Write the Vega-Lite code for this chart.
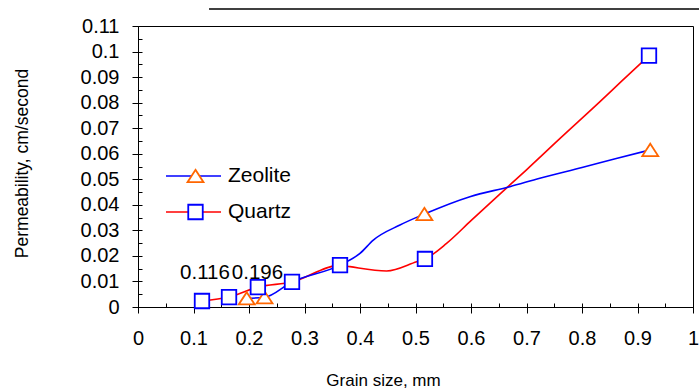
{
  "$schema": "https://vega.github.io/schema/vega-lite/v6.json",
  "width": 555,
  "height": 281,
  "autosize": {"type": "none"},
  "padding": {"left": 138, "top": 26, "right": 6, "bottom": 81},
  "background": "white",
  "config": {
    "font": "Liberation Sans",
    "view": {"stroke": "black", "strokeWidth": 1},
    "axis": {"grid": false, "domainColor": "black", "tickColor": "black", "labelColor": "black", "titleColor": "black", "labelFont": "Liberation Sans", "titleFont": "Liberation Sans", "titleFontWeight": "normal", "labelFlush": false, "labelOverlap": false}
  },
  "datasets": {
    "lines": [
      {"series": "Quartz", "grain": 0.1153, "perm": 0.00235},
      {"series": "Quartz", "grain": 0.164, "perm": 0.0039},
      {"series": "Quartz", "grain": 0.216, "perm": 0.0078},
      {"series": "Quartz", "grain": 0.2775, "perm": 0.0098},
      {"series": "Quartz", "grain": 0.364, "perm": 0.0164},
      {"series": "Quartz", "grain": 0.382, "perm": 0.0158},
      {"series": "Quartz", "grain": 0.448, "perm": 0.0141},
      {"series": "Quartz", "grain": 0.502, "perm": 0.0177},
      {"series": "Quartz", "grain": 0.517, "perm": 0.0188},
      {"series": "Quartz", "grain": 0.556, "perm": 0.0249},
      {"series": "Quartz", "grain": 0.6, "perm": 0.0338},
      {"series": "Quartz", "grain": 0.65, "perm": 0.0438},
      {"series": "Quartz", "grain": 0.70, "perm": 0.0537},
      {"series": "Quartz", "grain": 0.76, "perm": 0.0659},
      {"series": "Quartz", "grain": 0.8324, "perm": 0.0804},
      {"series": "Quartz", "grain": 0.87, "perm": 0.0881},
      {"series": "Quartz", "grain": 0.9207, "perm": 0.0984},
      {"series": "Zeolite", "grain": 0.1959, "perm": 0.0034},
      {"series": "Zeolite", "grain": 0.228, "perm": 0.0038},
      {"series": "Zeolite", "grain": 0.2775, "perm": 0.0098},
      {"series": "Zeolite", "grain": 0.364, "perm": 0.0164},
      {"series": "Zeolite", "grain": 0.4, "perm": 0.021},
      {"series": "Zeolite", "grain": 0.424, "perm": 0.0262},
      {"series": "Zeolite", "grain": 0.472, "perm": 0.0321},
      {"series": "Zeolite", "grain": 0.516, "perm": 0.0364},
      {"series": "Zeolite", "grain": 0.598, "perm": 0.0432},
      {"series": "Zeolite", "grain": 0.67, "perm": 0.0471},
      {"series": "Zeolite", "grain": 0.724, "perm": 0.0504},
      {"series": "Zeolite", "grain": 0.8, "perm": 0.0546},
      {"series": "Zeolite", "grain": 0.86, "perm": 0.058},
      {"series": "Zeolite", "grain": 0.923, "perm": 0.0615}
    ],
    "markers": [
      {"series": "Zeolite", "grain": 0.1959, "perm": 0.0034},
      {"series": "Zeolite", "grain": 0.228, "perm": 0.0038},
      {"series": "Zeolite", "grain": 0.516, "perm": 0.0364},
      {"series": "Zeolite", "grain": 0.923, "perm": 0.0615},
      {"series": "Quartz", "grain": 0.1153, "perm": 0.00235},
      {"series": "Quartz", "grain": 0.164, "perm": 0.0039},
      {"series": "Quartz", "grain": 0.216, "perm": 0.0078},
      {"series": "Quartz", "grain": 0.2775, "perm": 0.0098},
      {"series": "Quartz", "grain": 0.364, "perm": 0.0164},
      {"series": "Quartz", "grain": 0.517, "perm": 0.0188},
      {"series": "Quartz", "grain": 0.9207, "perm": 0.0984}
    ],
    "labels": [
      {"label": "0.116", "grain": 0.1207, "perm": 0.0132},
      {"label": "0.196", "grain": 0.2153, "perm": 0.0132}
    ]
  },
  "layer": [
    {
      "data": {"name": "lines"},
      "mark": {"type": "line", "interpolate": "monotone", "strokeWidth": 1.6},
      "encoding": {
        "x": {"field": "grain", "type": "quantitative", "scale": {"domain": [0, 1], "nice": false, "zero": false},
          "axis": {"orient": "bottom", "values": [0, 0.1, 0.2, 0.3, 0.4, 0.5, 0.6, 0.7, 0.8, 0.9, 1], "format": ".1~f", "tickSize": 6, "labelPadding": 15.5, "labelFontSize": 20, "title": "Grain size, mm", "titleFontSize": 17, "titleX": 245, "titleY": 78, "titleBaseline": "alphabetic", "titleAlign": "center"}},
        "y": {"field": "perm", "type": "quantitative", "scale": {"domain": [0, 0.11], "nice": false, "zero": false},
          "axis": {"orient": "left", "values": [0, 0.01, 0.02, 0.03, 0.04, 0.05, 0.06, 0.07, 0.08, 0.09, 0.1, 0.11], "format": ".2~f", "tickSize": 6, "labelPadding": 13, "labelFontSize": 20, "title": "Permeability, cm/second", "titleFontSize": 17.5, "titleX": -116, "titleY": 137, "titleAngle": 270, "titleBaseline": "middle", "titleAlign": "center"}},
        "stroke": {"field": "series", "type": "nominal", "scale": {"domain": ["Zeolite", "Quartz"], "range": ["#0000FF", "#FF0000"]},
          "legend": {"orient": "none", "legendX": 27, "legendY": 138, "title": null, "symbolType": "stroke", "symbolSize": 3025, "symbolStrokeWidth": 1.6, "labelFontSize": 21, "labelOffset": 6, "labelColor": "black", "labelFont": "Liberation Sans", "clipHeight": 24, "rowPadding": 12, "padding": 0}}
      }
    },
    {
      "data": {"name": "markers"},
      "mark": {"type": "point", "filled": true, "fill": "white", "strokeWidth": 1.8, "opacity": 1, "size": 210},
      "encoding": {
        "x": {"field": "grain", "type": "quantitative", "scale": {"domain": [0, 1], "nice": false, "zero": false},
          "axis": {"orient": "bottom", "values": [0, 0.05, 0.1, 0.15, 0.2, 0.25, 0.3, 0.35, 0.4, 0.45, 0.5, 0.55, 0.6, 0.65, 0.7, 0.75, 0.8, 0.85, 0.9, 0.95, 1], "tickSize": -4, "labels": false, "domain": false, "title": null}},
        "y": {"field": "perm", "type": "quantitative", "scale": {"domain": [0, 0.11], "nice": false, "zero": false},
          "axis": {"orient": "left", "values": [0, 0.005, 0.01, 0.015, 0.02, 0.025, 0.03, 0.035, 0.04, 0.045, 0.05, 0.055, 0.06, 0.065, 0.07, 0.075, 0.08, 0.085, 0.09, 0.095, 0.1, 0.105, 0.11], "tickSize": -4, "labels": false, "domain": false, "title": null}},
        "stroke": {"field": "series", "type": "nominal", "scale": {"domain": ["Zeolite", "Quartz"], "range": ["#FF6600", "#0000FF"]},
          "legend": {"orient": "none", "legendX": 47, "legendY": 138, "title": null, "symbolSize": 210, "symbolStrokeWidth": 1.8, "symbolFillColor": "white", "labelFontSize": 21, "labelExpr": "''", "clipHeight": 24, "rowPadding": 12, "padding": 0}},
        "shape": {"field": "series", "type": "nominal", "scale": {"domain": ["Zeolite", "Quartz"], "range": ["M0,-0.85L1.1,0.85H-1.1Z", "square"]},
          "legend": {"orient": "none", "legendX": 47, "legendY": 138, "title": null, "symbolSize": 210, "symbolStrokeWidth": 1.8, "symbolFillColor": "white", "labelFontSize": 21, "labelExpr": "''", "clipHeight": 24, "rowPadding": 12, "padding": 0}}
      }
    },
    {
      "data": {"name": "labels"},
      "mark": {"type": "text", "fontSize": 20.5, "align": "center", "baseline": "middle", "color": "black"},
      "encoding": {
        "x": {"field": "grain", "type": "quantitative", "scale": {"domain": [0, 1], "nice": false, "zero": false}, "axis": null},
        "y": {"field": "perm", "type": "quantitative", "scale": {"domain": [0, 0.11], "nice": false, "zero": false}, "axis": null},
        "text": {"field": "label", "type": "nominal"}
      }
    },
    {
      "data": {"values": [{}]},
      "mark": {"type": "rule", "color": "#404040", "strokeWidth": 2, "clip": false},
      "encoding": {
        "x": {"datum": 0.128, "type": "quantitative", "scale": {"domain": [0, 1], "nice": false, "zero": false}, "axis": null},
        "x2": {"datum": 1.011},
        "y": {"datum": 0.1167, "type": "quantitative", "scale": {"domain": [0, 0.11], "nice": false, "zero": false}, "axis": null}
      }
    }
  ],
  "resolve": {"scale": {"stroke": "independent", "shape": "independent"}, "axis": {"x": "independent", "y": "independent"}}
}
